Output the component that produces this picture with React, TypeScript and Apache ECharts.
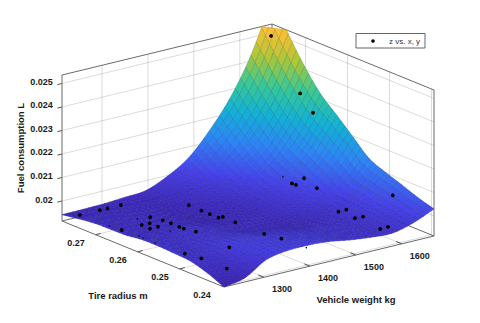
import React, { useEffect, useRef } from "react";
import * as echarts from "echarts";

// Axis limits and tick labels
const weightLimits = [1213, 1670];
const radiusLimits = [0.2394, 0.278];
const fuelLimits = [0.01915, 0.02536];
const weightTicks = [1300, 1400, 1500, 1600];
const radiusTicks = [0.24, 0.25, 0.26, 0.27];
const fuelTicks = [0.02, 0.021, 0.022, 0.023, 0.024, 0.025];
const fuelTickLabels = ["0.02", "0.021", "0.022", "0.023", "0.024", "0.025"];

// Surface heights: rows follow radius, columns follow weight
const gridWeights = [1213, 1258.7, 1304.4, 1350.1, 1395.8, 1441.5, 1487.2, 1532.9, 1578.6, 1624.3, 1670];
const gridRadii = [0.2394, 0.24326, 0.24712, 0.25098, 0.25484, 0.2587, 0.26256, 0.26642, 0.27028, 0.27414, 0.278];
const surfaceFuel = [
  [0.01915, 0.01932, 0.01987, 0.02004, 0.02006, 0.02, 0.01985, 0.01975, 0.0197, 0.01992, 0.0203],
  [0.01945, 0.01953, 0.01997, 0.02006, 0.02002, 0.01993, 0.01978, 0.01972, 0.01973, 0.02001, 0.02051],
  [0.01966, 0.01968, 0.02, 0.02003, 0.01993, 0.01984, 0.01971, 0.01969, 0.01977, 0.02014, 0.02077],
  [0.01972, 0.01968, 0.01991, 0.01989, 0.01976, 0.01967, 0.01957, 0.01961, 0.01978, 0.02025, 0.02102],
  [0.01975, 0.01966, 0.0198, 0.01974, 0.01958, 0.0195, 0.01944, 0.01956, 0.01982, 0.0204, 0.02132],
  [0.01975, 0.01964, 0.01974, 0.01967, 0.01953, 0.0195, 0.01951, 0.01974, 0.02012, 0.02085, 0.02196],
  [0.01966, 0.01956, 0.01961, 0.01955, 0.01942, 0.01945, 0.01954, 0.01989, 0.02041, 0.02129, 0.0226],
  [0.01964, 0.01953, 0.01954, 0.01947, 0.01935, 0.01943, 0.0196, 0.02006, 0.02071, 0.02174, 0.02323],
  [0.01962, 0.01952, 0.01951, 0.01946, 0.01938, 0.01954, 0.01982, 0.02041, 0.02122, 0.02242, 0.02413],
  [0.01953, 0.01948, 0.01948, 0.01948, 0.01946, 0.01972, 0.02013, 0.02089, 0.02188, 0.02328, 0.02523],
  [0.01942, 0.01943, 0.01945, 0.01951, 0.01958, 0.01996, 0.02051, 0.02145, 0.02264, 0.02425, 0.02647],
];

// Measured points: weight, radius, fuel
const measured = [
  [1632, 0.27406, 0.02532], [1657, 0.26987, 0.02306], [1650, 0.26603, 0.02255], [1569, 0.26219, 0.02021],
  [1565.5, 0.26084, 0.02026], [1572, 0.25963, 0.0206], [1583, 0.25776, 0.02026], [1643, 0.24627, 0.02051],
  [1581, 0.25242, 0.01966], [1591.5, 0.25171, 0.01975], [1588, 0.24925, 0.01958], [1591, 0.24766, 0.01975],
  [1580, 0.24235, 0.01966], [1590.5, 0.24167, 0.01975], [1402.6, 0.2465, 0.01979], [1395, 0.24974, 0.01979],
  [1405, 0.26879, 0.01958], [1411, 0.26645, 0.01949], [1411, 0.26446, 0.01949], [1414, 0.26273, 0.01945],
  [1419, 0.26224, 0.01949], [1418, 0.25917, 0.01949], [1330.5, 0.2649, 0.01945], [1329.5, 0.2628, 0.01945],
  [1330, 0.26178, 0.01945], [1333, 0.25922, 0.01949], [1313, 0.24908, 0.01966], [1231, 0.2507, 0.01966],
  [1238, 0.24754, 0.01966], [1258, 0.24367, 0.01941], [1234, 0.27605, 0.01945], [1277, 0.276, 0.01945],
  [1294, 0.27602, 0.01945], [1320, 0.27571, 0.01949], [1237.5, 0.26646, 0.01949], [1319, 0.26859, 0.01949],
  [1326, 0.26636, 0.01949], [1298, 0.26642, 0.01949], [1281.5, 0.26651, 0.01949], [1280.5, 0.26442, 0.01949],
  [1298, 0.26444, 0.01949],
];
// Points that the surface nearly covers, so only a speck of each shows
const partlyHidden = [
  [1562, 0.2636, 0.02043], [1396.5, 0.23988, 0.01992], [1234, 0.26903, 0.01949], [1295.6, 0.2691, 0.01949],
  [1234, 0.26199, 0.01958], [1233, 0.26092, 0.01958], [1226, 0.25726, 0.01966], [1278, 0.26109, 0.01958],
  [1297, 0.26143, 0.01953],
];

const parula = [
  [60, 34, 178], [70, 66, 234], [46, 132, 247], [18, 177, 214],
  [55, 200, 151], [171, 199, 57], [254, 190, 56], [250, 220, 36], [249, 251, 21],
];
const colorLimits = [0.01915, 0.0273];

const SUB = 4; // mesh cells drawn per estimated grid step
const CELLS = (gridWeights.length - 1) * SUB;

const FONT = '"Liberation Sans", Arial, sans-serif';

function project(x: number, y: number, z: number): [number, number] {
  const u = (x - weightLimits[0]) / (weightLimits[1] - weightLimits[0]);
  const v = (y - radiusLimits[0]) / (radiusLimits[1] - radiusLimits[0]);
  const w = (z - fuelLimits[0]) / (fuelLimits[1] - fuelLimits[0]);
  return [224 + 210 * u - 162 * v, 287 - 51 * u - 66 * v - 146 * w];
}

function cr(p0: number, p1: number, p2: number, p3: number, t: number) {
  return 0.5 * (2 * p1 + (p2 - p0) * t + (2 * p0 - 5 * p1 + 4 * p2 - p3) * t * t + (3 * p1 - p0 - 3 * p2 + p3) * t * t * t);
}
function smooth(list: number[], s: number) {
  const n = list.length - 1;
  const i = Math.min(Math.floor(s), n - 1);
  const t = s - i;
  const at = (k: number) => {
    if (k < 0) return 2 * list[0] - list[1];
    if (k > n) return 2 * list[n] - list[n - 1];
    return list[k];
  };
  return cr(at(i - 1), at(i), at(i + 1), at(i + 2), t);
}
function surfaceAt(si: number, sj: number) {
  const rows = surfaceFuel.map((row) => smooth(row, si));
  return smooth(rows, sj);
}
function colorOf(z: number) {
  const t = Math.max(0, Math.min(1, (z - colorLimits[0]) / (colorLimits[1] - colorLimits[0])));
  const p = t * (parula.length - 1);
  const i = Math.min(Math.floor(p), parula.length - 2);
  const f = p - i;
  return parula[i].map((a, k) => a + (parula[i + 1][k] - a) * f);
}
const rgb = (c: number[], m = 1) => `rgb(${Math.round(c[0] * m)},${Math.round(c[1] * m)},${Math.round(c[2] * m)})`;

type V = [number, number, number];
function clipTop(poly: V[]): V[] {
  const out: V[] = [];
  const top = fuelLimits[1];
  for (let k = 0; k < poly.length; k++) {
    const a = poly[k];
    const b = poly[(k + 1) % poly.length];
    const ain = a[2] <= top;
    const bin = b[2] <= top;
    if (ain) out.push(a);
    if (ain !== bin) {
      const t = (top - a[2]) / (b[2] - a[2]);
      out.push([a[0] + (b[0] - a[0]) * t, a[1] + (b[1] - a[1]) * t, top]);
    }
  }
  return out;
}

const [xa, xb] = weightLimits;
const [ya, yb] = radiusLimits;
const [za, zb] = fuelLimits;
const xTickLen = 0.035 * (yb - ya);
const yTickLen = 0.025 * (xb - xa);
const zTickLen = 0.022 * (xb - xa);

type Seg = [number, number, number, number, number, number, number];
// kind: 0 wall grid, 1 box edge, 2 tick
const segments: Seg[] = [
  ...weightTicks.flatMap((x): Seg[] => [
    [x, ya, za, x, yb, za, 0],
    [x, yb, za, x, yb, zb, 0],
    [x, ya, za, x, ya + xTickLen, za, 2],
  ]),
  ...radiusTicks.flatMap((y): Seg[] => [
    [xa, y, za, xb, y, za, 0],
    [xb, y, za, xb, y, zb, 0],
    [xa, y, za, xa + yTickLen, y, za, 2],
  ]),
  ...fuelTicks.flatMap((z): Seg[] => [
    [xa, yb, z, xb, yb, z, 0],
    [xb, yb, z, xb, ya, z, 0],
    [xa, yb, z, xa - zTickLen, yb, z, 2],
  ]),
  [xa, yb, za, xa, yb, zb, 1],
  [xa, yb, zb, xb, yb, zb, 1],
  [xb, yb, zb, xb, ya, zb, 1],
  [xb, ya, zb, xb, ya, za, 1],
  [xb, yb, za, xb, yb, zb, 1],
  [xa, yb, za, xb, yb, za, 1],
  [xb, yb, za, xb, ya, za, 1],
  [xa, yb, za, xa, ya, za, 1],
  [xa, ya, za, xb, ya, za, 1],
];
const segStyle = [
  { stroke: "rgba(0,0,0,0.14)", lineWidth: 1 },
  { stroke: "#6a6a6a", lineWidth: 1 },
  { stroke: "#555555", lineWidth: 1 },
];

function buildOption() {
  const cells: number[][] = [];
  for (let i = CELLS - 1; i >= 0; i--) for (let j = CELLS - 1; j >= 0; j--) cells.push([i, j]);
  const nodeX = (i: number) => smooth(gridWeights, i / SUB);
  const nodeY = (j: number) => smooth(gridRadii, j / SUB);
  const node = (i: number, j: number): V => [nodeX(i), nodeY(j), surfaceAt(i / SUB, j / SUB)];

  const texts: any[] = [];
  const label = (text: string, x: number, y: number, extra: any = {}) =>
    texts.push({
      type: "text",
      x,
      y,
      z: 20,
      ...extra,
      style: {
        text,
        fill: "#1a1a1a",
        font: `bold 9px ${FONT}`,
        align: "center",
        verticalAlign: "middle",
        ...(extra.style || {}),
      },
    });
  weightTicks.forEach((x) => {
    const p = project(x, ya, za);
    label(String(x), p[0] + 18, p[1] + 12);
  });
  radiusTicks.forEach((y) => {
    const p = project(xa, y, za);
    label(y.toFixed(2), p[0] - 19.5, p[1] + 8.6);
  });
  fuelTicks.forEach((z, k) => {
    const p = project(xa, yb, z);
    label(fuelTickLabels[k], p[0] - 9.3, p[1] - 1.5, { style: { align: "right" } });
  });
  label("Tire radius m", 118, 295, { style: { font: `bold 9.5px ${FONT}` } });
  label("Vehicle weight kg", 356, 299, { style: { font: `bold 9.5px ${FONT}` } });
  label("Fuel consumption L", 20, 148, { rotation: Math.PI / 2, style: { font: `bold 9.5px ${FONT}` } });

  return {
    animation: false,
    backgroundColor: "#ffffff",
    graphic: [
      ...texts,
      {
        type: "rect",
        z: 20,
        shape: { x: 356, y: 33.5, width: 69, height: 14.5 },
        style: { fill: "#ffffff", stroke: "#666666", lineWidth: 1 },
      },
      { type: "circle", z: 21, shape: { cx: 373, cy: 41, r: 1.8 }, style: { fill: "#000000" } },
      {
        type: "text",
        z: 21,
        x: 389,
        y: 41.5,
        style: { text: "z vs. x, y", fill: "#333333", font: `8px ${FONT}`, align: "left", verticalAlign: "middle" },
      },
    ],
    series: [
      {
        type: "custom",
        name: "frame",
        coordinateSystem: "none",
        silent: true,
        progressive: 0,
        z: 2,
        data: segments.map((_, k) => [k]),
        renderItem: (_p: any, api: any) => {
          const s = segments[api.value(0)];
          const a = project(s[0], s[1], s[2]);
          const b = project(s[3], s[4], s[5]);
          return {
            type: "line",
            shape: { x1: a[0], y1: a[1], x2: b[0], y2: b[1] },
            style: segStyle[s[6]],
            silent: true,
          };
        },
      },
      {
        type: "custom",
        name: "surface",
        coordinateSystem: "none",
        silent: true,
        progressive: 0,
        z: 3,
        data: cells,
        renderItem: (_p: any, api: any) => {
          const i = api.value(0);
          const j = api.value(1);
          const quad = [node(i, j), node(i + 1, j), node(i + 1, j + 1), node(i, j + 1)];
          const poly = clipTop(quad);
          if (poly.length < 3) return null;
          const mean = quad.reduce((s, q) => s + q[2], 0) / 4;
          const c = colorOf(mean);
          return {
            type: "polygon",
            shape: { points: poly.map((q) => project(q[0], q[1], q[2])) },
            style: { fill: rgb(c), stroke: rgb(c, 0.78), lineWidth: 0.5 },
            silent: true,
          };
        },
      },
      {
        type: "custom",
        name: "z vs. x, y",
        coordinateSystem: "none",
        silent: true,
        progressive: 0,
        z: 4,
        data: measured,
        renderItem: (_p: any, api: any) => {
          const p = project(api.value(0), api.value(1), api.value(2));
          return { type: "circle", shape: { cx: p[0], cy: p[1], r: 1.9 }, style: { fill: "#000000" }, silent: true };
        },
      },
      {
        type: "custom",
        name: "z vs. x, y (covered)",
        coordinateSystem: "none",
        silent: true,
        progressive: 0,
        z: 4,
        data: partlyHidden,
        renderItem: (_p: any, api: any) => {
          const p = project(api.value(0), api.value(1), api.value(2));
          return { type: "circle", shape: { cx: p[0], cy: p[1], r: 0.8 }, style: { fill: "#101030" }, silent: true };
        },
      },
    ],
  };
}

export default function App() {
  const ref = useRef<HTMLDivElement>(null);
  useEffect(() => {
    const chart = echarts.init(ref.current!, undefined, { renderer: "svg", width: 480, height: 323 });
    chart.setOption(buildOption() as any);
    return () => chart.dispose();
  }, []);
  return <div ref={ref} style={{ position: "fixed", left: 0, top: 0, width: 480, height: 323 }} />;
}
